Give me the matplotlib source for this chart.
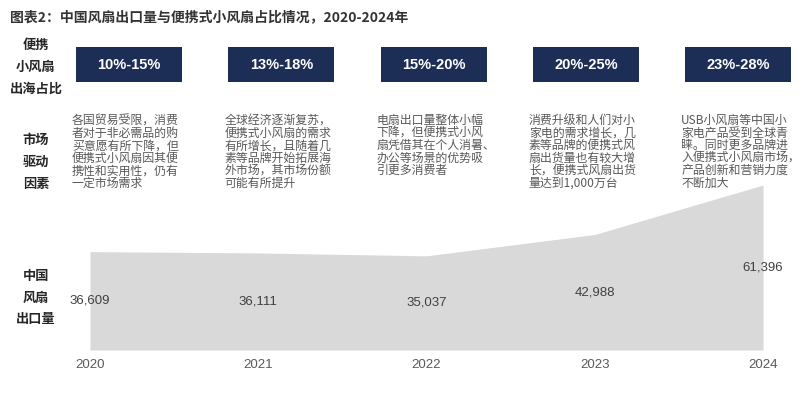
import matplotlib
matplotlib.use("Agg")
import matplotlib.pyplot as plt
from matplotlib.patches import Rectangle

plt.rcParams['font.family'] = ['Noto Sans CJK SC', 'DejaVu Sans']

years = ["2020", "2021", "2022", "2023", "2024"]
exports = [36609, 36111, 35037, 42988, 61396]
shares = ["10%-15%", "13%-18%", "15%-20%", "20%-25%", "23%-28%"]
drivers = [
    ["各国贸易受限，消费", "者对于非必需品的购", "买意愿有所下降，但", "便携式小风扇因其便", "携性和实用性，仍有", "一定市场需求"],
    ["全球经济逐渐复苏，", "便携式小风扇的需求", "有所增长，且随着几", "素等品牌开始拓展海", "外市场，其市场份额", "可能有所提升"],
    ["电扇出口量整体小幅", "下降，但便携式小风", "扇凭借其在个人消暑、", "办公等场景的优势吸", "引更多消费者"],
    ["消费升级和人们对小", "家电的需求增长，几", "素等品牌的便携式风", "扇出货量也有较大增", "长，便携式风扇出货", "量达到1,000万台"],
    ["USB小风扇等中国小", "家电产品受到全球青", "睐。同时更多品牌进", "入便携式小风扇市场，", "产品创新和营销力度", "不断加大"],
]
title = "图表2：中国风扇出口量与便携式小风扇占比情况，2020-2024年"
row_labels = [["便携", "小风扇", "出海占比"], ["市场", "驱动", "因素"], ["中国", "风扇", "出口量"]]

W, H = 812, 395
fig = plt.figure(figsize=(W / 100, H / 100), dpi=100)

def fx(x):
    return x / W

def fy(y):
    return 1 - y / H

# Title
fig.text(fx(10), fy(17), title, fontsize=10, fontweight='bold', color='#333333',
         ha='left', va='center')

# Row labels
row_y = [[45, 67, 89], [140, 162, 184], [276, 298, 319]]
for labels, ys in zip(row_labels, row_y):
    for lab, yy in zip(labels, ys):
        fig.text(fx(36), fy(yy), lab, fontsize=9.5, fontweight='bold', color='#262626',
                 ha='center', va='center')

# Share boxes
box_w, box_h = 106, 35
for i, s in enumerate(shares):
    left = 76 + 152.3 * i
    fig.patches.append(Rectangle((fx(left), fy(47 + box_h)), box_w / W, box_h / H,
                                 transform=fig.transFigure, facecolor='#1c2e55',
                                 edgecolor='none'))
    fig.text(fx(left + box_w / 2), fy(65), s, fontsize=10.5, fontweight='bold',
             color='white', ha='center', va='center', family='Liberation Sans')

    # Driver text
    for j, line in enumerate(drivers[i]):
        fig.text(fx(left - 4), fy(120.7 + 12.5 * j), line, fontsize=8.6,
                 color='#595959', ha='left', va='center',
                 family=['Noto Sans CJK SC', 'Liberation Sans'])

# Area chart
ax = fig.add_axes([fx(90), 45 / H, (763 - 90) / W, 165 / H])
xs = list(range(len(years)))
ax.fill_between(xs, 0, exports, color='#d9d9d9', lw=0)
ax.set_xlim(0, len(years) - 1)
ax.set_ylim(0, max(exports))
ax.axis('off')
for i, (yr, v) in enumerate(zip(years, exports)):
    ax.text(i, v / 2, f"{v:,}", fontsize=9.5, color='#404040', ha='center', va='center',
            family='Liberation Sans', clip_on=False)
    ax.annotate(yr, (i, 0), xytext=(0, -10.8), textcoords='offset points',
                fontsize=9.5, color='#595959', ha='center', va='center',
                family='Liberation Sans', annotation_clip=False)

fig.savefig("out.png", dpi=100)
